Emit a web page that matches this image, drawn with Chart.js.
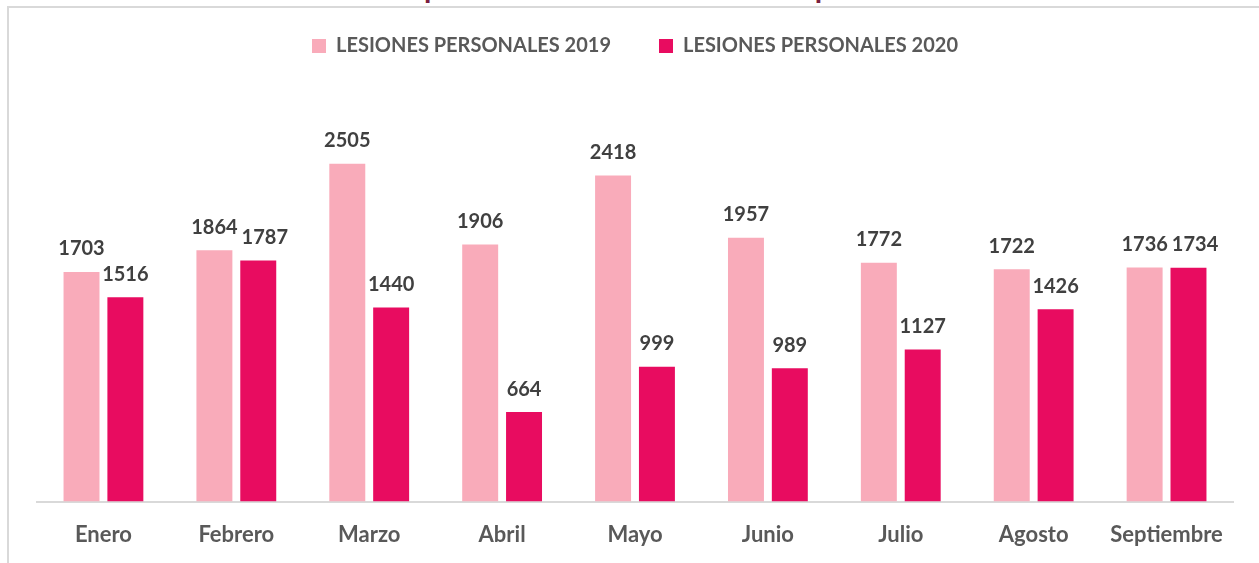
<!DOCTYPE html>
<html lang="es">
<head>
    <meta charset="UTF-8">
    <title>Lesiones personales 2019 - 2020</title>
    <script src="https://cdn.jsdelivr.net/npm/chart.js"></script>
    <style>
        html, body { margin: 0; padding: 0; background: #fff; overflow: hidden; }
        body { width: 1259px; height: 563px; position: relative; }
        .titulo {
            position: absolute;
            left: 362px;
            top: -29px;
            font-family: Lato, sans-serif;
            font-weight: bold;
            font-size: 30px;
            line-height: 30px;
            color: #7b1f3f;
            white-space: nowrap;
        }
        .marco {
            position: absolute;
            left: 7px;
            top: 6px;
            width: 1252px;
            height: 557px;
            border-top: 2px solid #d9d9d9;
            border-left: 2px solid #d9d9d9;
        }
        .marco canvas { display: block; }
    </style>
</head>
<body>
    <div class="titulo">Comparativo mensual de lesiones personales</div>
    <div class="marco">
        <canvas id="barChart" width="1250" height="555"></canvas>
    </div>
    <script>
        // datos
        const meses = ["Enero", "Febrero", "Marzo", "Abril", "Mayo", "Junio", "Julio", "Agosto", "Septiembre"];
        const lesiones2019 = [1703, 1864, 2505, 1906, 2418, 1957, 1772, 1722, 1736];
        const lesiones2020 = [1516, 1787, 1440, 664, 999, 989, 1127, 1426, 1734];

        // etiquetas de valor encima de cada barra (se corren a la derecha si se pisan)
        const etiquetas = {
            id: "etiquetas",
            afterDatasetsDraw(chart) {
                const ctx = chart.ctx;
                const alto = 16;
                ctx.save();
                ctx.font = "bold 20px Lato, sans-serif";
                ctx.fillStyle = "#404040";
                ctx.textAlign = "center";
                ctx.textBaseline = "bottom";
                const previas = [];
                chart.data.datasets.forEach((ds, i) => {
                    chart.getDatasetMeta(i).data.forEach((bar, j) => {
                        const texto = String(ds.data[j]);
                        const w = ctx.measureText(texto).width;
                        let x = bar.x;
                        const y = bar.y - 13;
                        const prev = previas[j];
                        if (prev && Math.abs(prev.y - y) < alto && x - w / 2 < prev.x + prev.w / 2 + 4) {
                            x = prev.x + prev.w / 2 + 4 + w / 2;
                        }
                        ctx.fillText(texto, x, y);
                        previas[j] = { x, y, w };
                    });
                });
                ctx.restore();
            }
        };

        new Chart(document.getElementById("barChart"), {
            type: "bar",
            data: {
                labels: meses,
                datasets: [
                    {
                        label: "LESIONES PERSONALES 2019",
                        data: lesiones2019,
                        backgroundColor: "#f9abba",
                        categoryPercentage: 0.66,
                        barPercentage: 0.82
                    },
                    {
                        label: "LESIONES PERSONALES 2020",
                        data: lesiones2020,
                        backgroundColor: "#e80c60",
                        categoryPercentage: 0.66,
                        barPercentage: 0.82
                    }
                ]
            },
            options: {
                responsive: false,
                animation: false,
                layout: {
                    padding: { left: 28, right: 26, top: -20, bottom: 3 }
                },
                plugins: {
                    legend: {
                        position: "top",
                        labels: {
                            boxWidth: 14,
                            boxHeight: 14,
                            padding: 48,
                            color: "#595959",
                            font: { family: "Lato, sans-serif", size: 20, weight: "bold" }
                        }
                    },
                    tooltip: { enabled: false }
                },
                scales: {
                    x: {
                        grid: { display: false },
                        border: { color: "#d9d9d9", width: 2 },
                        ticks: {
                            color: "#595959",
                            padding: 12,
                            font: { family: "Lato, sans-serif", size: 22, weight: "bold" }
                        }
                    },
                    y: {
                        display: false,
                        min: 0,
                        max: 3230
                    }
                }
            },
            plugins: [etiquetas]
        });
    </script>
</body>
</html>
